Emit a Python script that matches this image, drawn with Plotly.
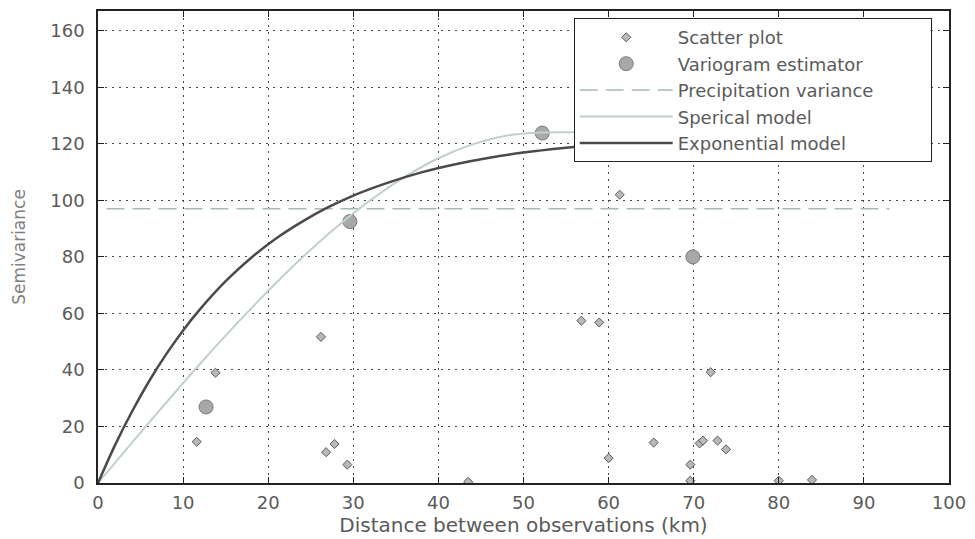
import plotly.graph_objects as go

# Pairwise observations (distance in km, semivariance)
scatter_dist = [11.6, 13.8, 26.2, 26.8, 27.8, 29.3, 43.5, 56.8, 58.9, 60.0, 61.3,
                65.3, 69.6, 69.6, 70.7, 71.1, 72.0, 72.8, 73.8, 80.0, 83.9]
scatter_semi = [14.6, 39.0, 51.7, 10.9, 13.8, 6.5, 0.4, 57.4, 56.8, 8.8, 102.0,
                14.3, 6.5, 0.8, 14.0, 15.0, 39.2, 15.0, 11.9, 0.8, 1.1]

# Binned variogram estimator
est_dist = [12.7, 29.6, 52.2, 69.9]
est_semi = [26.9, 92.5, 123.8, 80.0]

# Sample variance of precipitation
var_dist = [1, 93]
var_semi = [97, 97]

# Fitted spherical model
sph_dist = [0, 4, 8, 12, 16, 20, 24, 28, 32, 36, 40, 44, 48, 52, 60, 93]
sph_semi = [0, 14.3, 28.4, 42.2, 55.4, 68.0, 79.8, 90.5, 100.0, 108.2, 114.9,
            119.8, 122.9, 124.0, 124.0, 124.0]

# Fitted exponential model
exp_dist = [0, 2, 4, 6, 8, 10, 12, 15, 18, 21, 24, 27, 30, 34, 38, 42, 46, 50,
            55, 60, 70, 80, 93]
exp_semi = [0, 13.4, 25.3, 36.0, 45.5, 54.0, 61.5, 71.4, 79.7, 86.7, 92.5, 97.5,
            101.7, 106.2, 109.9, 112.8, 115.1, 116.9, 118.6, 120.0, 121.7, 122.7, 123.4]

x_ticks = [0, 10, 20, 30, 40, 50, 60, 70, 80, 90, 100]
y_ticks = [0, 20, 40, 60, 80, 100, 120, 140, 160]

FONT = "DejaVu Sans"
NBSP = "\u00a0"

fig = go.Figure()

fig.add_trace(go.Scatter(
    x=scatter_dist, y=scatter_semi, mode="markers", name="Scatter plot",
    marker=dict(symbol="diamond", size=7, color="#b8b8b8",
                line=dict(color="#5a5a5a", width=1)),
))
fig.add_trace(go.Scatter(
    x=est_dist, y=est_semi, mode="markers", name="Variogram estimator",
    marker=dict(symbol="circle", size=14, color="#a8a8a8",
                line=dict(color="#7a7a7a", width=1)),
))
fig.add_trace(go.Scatter(
    x=var_dist, y=var_semi, mode="lines",
    # trailing no-break spaces widen the legend box a little
    name="Precipitation variance" + NBSP * 9,
    line=dict(color="#a9b8b8", width=1.5, dash="18px,8px"),
))
fig.add_trace(go.Scatter(
    x=sph_dist, y=sph_semi, mode="lines", name="Sperical model",
    line=dict(color="#c3cfcf", width=2, shape="spline", smoothing=0.8),
))
fig.add_trace(go.Scatter(
    x=exp_dist, y=exp_semi, mode="lines", name="Exponential model",
    line=dict(color="#4a4a4a", width=2.5, shape="spline", smoothing=0.8),
))

axis_common = dict(
    showline=True, linecolor="#222", linewidth=1.5, mirror="ticks",
    ticks="inside", ticklen=6, tickcolor="#222", tickwidth=1,
    showgrid=True, gridcolor="#444", gridwidth=1, griddash="2px,5px",
    zeroline=False,
    tickfont=dict(family=FONT, size=18, color="#5a5a5a"),
)

fig.update_xaxes(
    range=[0, 100], tickvals=x_ticks, ticktext=[str(v) for v in x_ticks],
    title=dict(text="Distance between observations (km)",
               font=dict(family=FONT, size=20, color="#5a5a5a"), standoff=3),
    ticklabelstandoff=3,
    **axis_common,
)
fig.update_yaxes(
    range=[0, 167], tickvals=y_ticks, ticktext=[str(v) for v in y_ticks],
    title=dict(text="Semivariance",
               font=dict(family=FONT, size=17, color="#808080"), standoff=20),
    ticklabelstandoff=8,
    **axis_common,
)

fig.update_layout(
    width=975, height=539,
    margin=dict(l=98, r=24, t=9, b=50),
    paper_bgcolor="white", plot_bgcolor="white",
    font=dict(family=FONT, color="#555"),
    legend=dict(
        x=0.559, y=0.985, xanchor="left", yanchor="top",
        bgcolor="white", bordercolor="#222", borderwidth=1,
        font=dict(family=FONT, size=18, color="#5a5a5a"),
        itemwidth=93, tracegroupgap=0,
    ),
    showlegend=True,
)

fig.write_html("out.html")
